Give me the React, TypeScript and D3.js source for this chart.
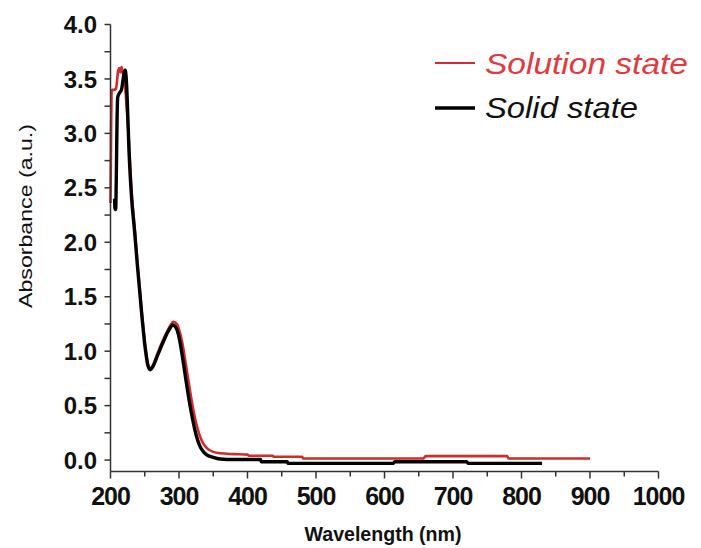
import React from "react";
import * as d3 from "d3";

// UV-Vis absorbance spectra
const solutionWl = [200, 200.6, 201.5, 202.5, 205, 208, 209.5, 211, 213, 214.5, 216, 218, 220, 222, 224, 227, 231, 235, 239.5, 246, 251, 254.5, 258, 262, 268, 278, 285, 292, 297, 301, 305, 310, 315, 320, 325, 330, 335, 340, 345, 350, 360, 380, 400, 402, 437, 438, 480, 481, 657, 660, 779, 781, 900];
const solutionAbs = [2.36, 2.8, 3.38, 3.4, 3.4, 3.41, 3.48, 3.57, 3.6, 3.56, 3.61, 3.56, 3.5, 3.38, 3.2, 2.92, 2.45, 2.16, 1.8, 1.34, 1.04, 0.89, 0.84, 0.87, 0.97, 1.12, 1.21, 1.27, 1.25, 1.18, 1.07, 0.88, 0.68, 0.49, 0.34, 0.23, 0.155, 0.115, 0.09, 0.075, 0.062, 0.055, 0.05, 0.04, 0.04, 0.03, 0.03, 0.015, 0.015, 0.036, 0.036, 0.015, 0.015];

const solidWl = [206, 206.5, 207.5, 208.5, 209.5, 210.5, 213, 216, 218, 220, 221.5, 223, 224.5, 227, 231, 235, 239.5, 246, 251, 254.5, 258, 262, 268, 278, 285, 291, 296, 300, 305, 310, 315, 320, 325, 330, 335, 340, 350, 360, 380, 419, 420, 458, 459, 613, 615, 720, 722, 830];
const solidAbs = [2.4, 2.31, 2.3, 2.6, 3.1, 3.33, 3.37, 3.4, 3.48, 3.56, 3.58, 3.5, 3.3, 2.84, 2.39, 2.11, 1.77, 1.31, 1.01, 0.87, 0.83, 0.86, 0.95, 1.1, 1.19, 1.24, 1.21, 1.13, 0.95, 0.74, 0.54, 0.37, 0.23, 0.135, 0.08, 0.05, 0.025, 0.01, 0.005, 0.005, -0.015, -0.015, -0.03, -0.03, -0.015, -0.015, -0.03, -0.03];

const xTicks = [200, 300, 400, 500, 600, 700, 800, 900, 1000];
const xMinorTicks = [250, 350, 450, 550, 650, 750, 850, 950];
const yTicks = [0, 0.5, 1.0, 1.5, 2.0, 2.5, 3.0, 3.5, 4.0];
const yMinorTicks = [0.25, 0.75, 1.25, 1.75, 2.25, 2.75, 3.25, 3.75];

const seriesNames = ["Solution state", "Solid state"];

const W = 701;
const H = 548;
const RED = "#d42a2a";
const RED_TEXT = "#e0393e";
const FONT = "'Liberation Sans', Arial, sans-serif";

export default function App() {
  const x = d3.scaleLinear().domain([200, 1000]).range([110.5, 658.5]);
  const y = d3.scaleLinear().domain([-0.105, 4.0]).range([471.5, 24.5]);

  const line = d3
    .line<[number, number]>()
    .x((d) => x(d[0]))
    .y((d) => y(d[1]))
    .curve(d3.curveMonotoneX);

  const solution: [number, number][] = solutionWl.map((w, i) => [w, solutionAbs[i]]);
  const solid: [number, number][] = solidWl.map((w, i) => [w, solidAbs[i]]);

  const axisColor = "#333";
  const x0 = x(200);
  const yBase = y(-0.105);

  return (
    <svg
      width={W}
      height={H}
      viewBox={`0 0 ${W} ${H}`}
      style={{ position: "absolute", left: 0, top: 0, background: "#fff" }}
    >
      <rect x={0} y={0} width={W} height={H} fill="#fff" />

      {/* curves */}
      <path d={line(solution) ?? ""} fill="none" stroke={RED} strokeWidth={2.6} strokeLinejoin="round" />
      <path d={line(solid) ?? ""} fill="none" stroke="#000" strokeWidth={3.4} strokeLinejoin="round" />

      {/* y axis */}
      <line x1={x0} x2={x0} y1={y(4.0)} y2={yBase} stroke={axisColor} strokeWidth={1.5} />
      {yTicks.map((t) => (
        <g key={`yt${t}`}>
          <line x1={x0 - 6} x2={x0} y1={y(t)} y2={y(t)} stroke={axisColor} strokeWidth={1.5} />
          <text
            x={97}
            y={y(t)}
            dy="0.36em"
            textAnchor="end"
            fontFamily={FONT}
            fontWeight="bold"
            fontSize={24}
            fill="#111"
          >
            {t.toFixed(1)}
          </text>
        </g>
      ))}
      {yMinorTicks.map((t) => (
        <line key={`ym${t}`} x1={x0 - 6} x2={x0} y1={y(t)} y2={y(t)} stroke={axisColor} strokeWidth={1.5} />
      ))}

      {/* x axis */}
      <line x1={x0} x2={x(1000)} y1={yBase} y2={yBase} stroke={axisColor} strokeWidth={1.5} />
      {xTicks.map((t) => (
        <g key={`xt${t}`}>
          <line x1={x(t)} x2={x(t)} y1={yBase} y2={yBase + 7} stroke={axisColor} strokeWidth={1.5} />
          <text
            x={x(t)}
            y={505}
            textAnchor="middle"
            fontFamily={FONT}
            fontWeight="bold"
            fontSize={25}
            letterSpacing={-1}
            fill="#111"
          >
            {t}
          </text>
        </g>
      ))}
      {xMinorTicks.map((t) => (
        <line key={`xm${t}`} x1={x(t)} x2={x(t)} y1={yBase} y2={yBase + 5} stroke={axisColor} strokeWidth={1.5} />
      ))}

      {/* axis titles */}
      <text
        x={383}
        y={541}
        textAnchor="middle"
        fontFamily={FONT}
        fontWeight="bold"
        fontSize={20}
        textLength={157}
        lengthAdjust="spacingAndGlyphs"
        fill="#111"
      >
        Wavelength (nm)
      </text>
      <text
        transform="translate(32,216) rotate(-90)"
        textAnchor="middle"
        fontFamily={FONT}
        fontSize={18}
        textLength={184}
        lengthAdjust="spacingAndGlyphs"
        fill="#111"
      >
        Absorbance (a.u.)
      </text>

      {/* legend */}
      <line x1={435} x2={475} y1={63} y2={63} stroke={RED} strokeWidth={2.2} />
      <text
        x={485}
        y={74}
        fontFamily={FONT}
        fontStyle="italic"
        fontSize={29}
        textLength={203}
        lengthAdjust="spacingAndGlyphs"
        fill={RED_TEXT}
      >
        {seriesNames[0]}
      </text>
      <line x1={435} x2={475} y1={108} y2={108} stroke="#000" strokeWidth={3.4} />
      <text
        x={485}
        y={118}
        fontFamily={FONT}
        fontStyle="italic"
        fontSize={29}
        textLength={153}
        lengthAdjust="spacingAndGlyphs"
        fill="#111"
      >
        {seriesNames[1]}
      </text>
    </svg>
  );
}
